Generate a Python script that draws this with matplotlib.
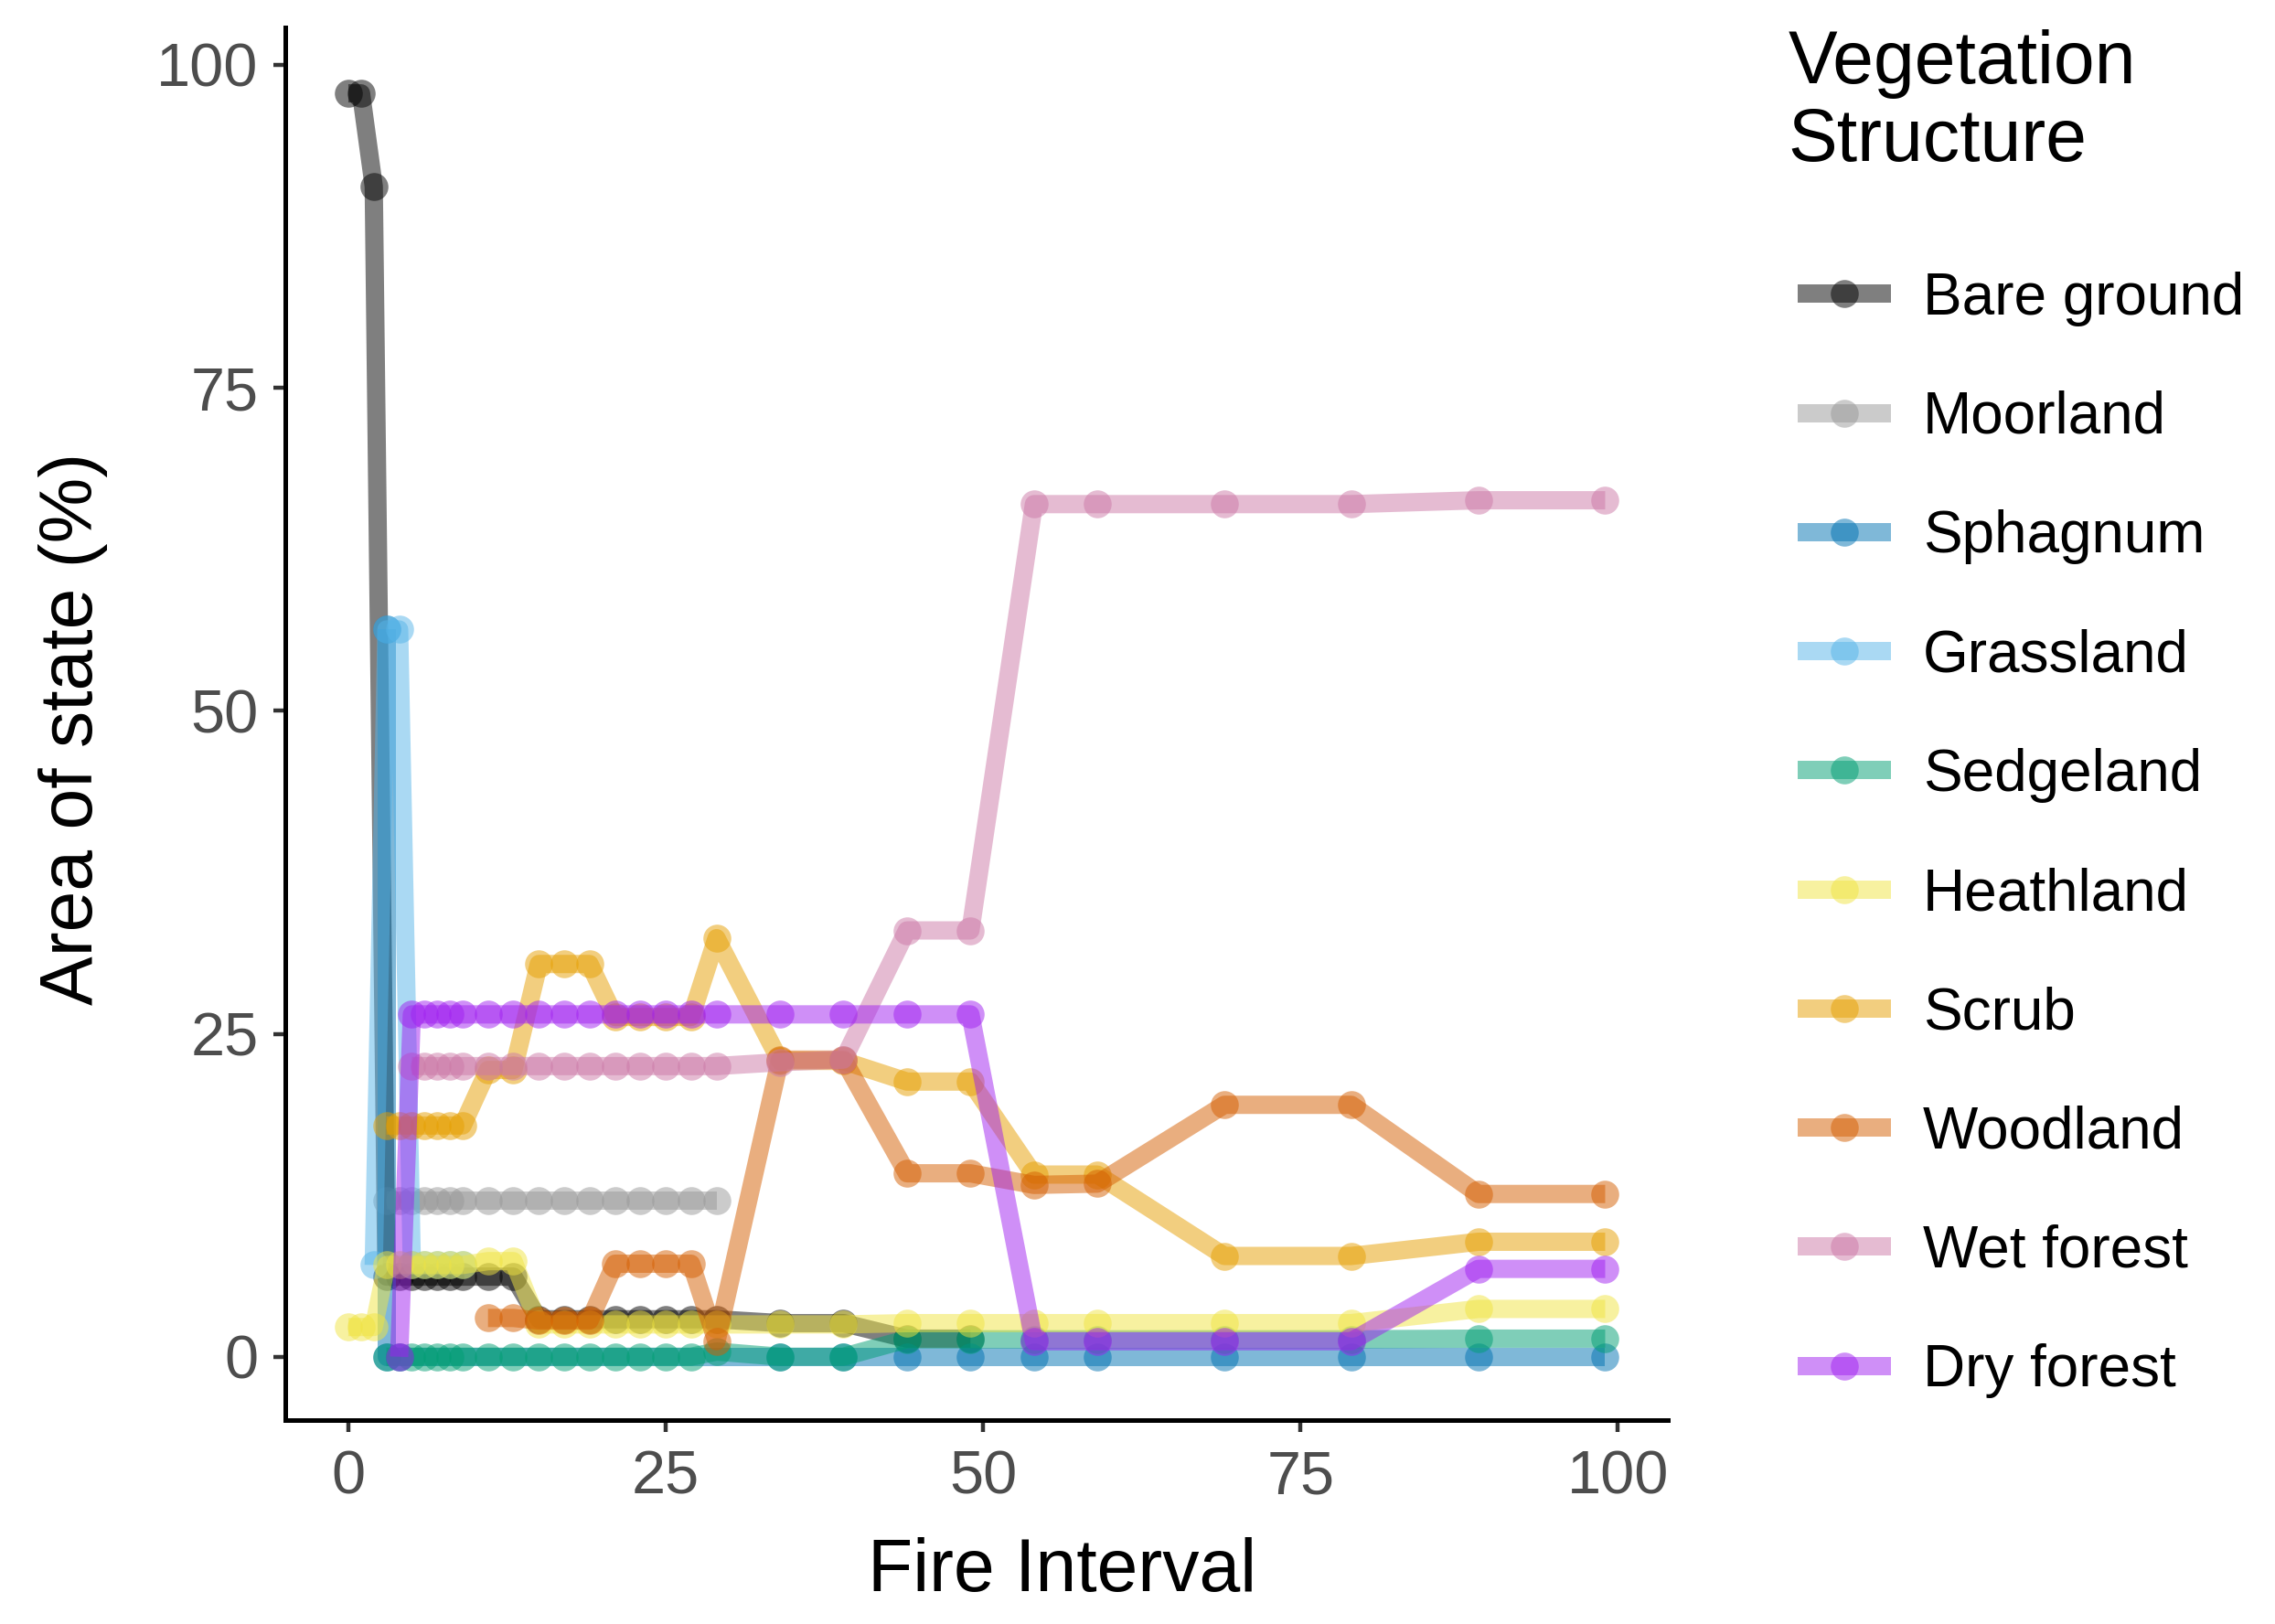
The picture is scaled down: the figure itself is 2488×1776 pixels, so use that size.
import matplotlib.pyplot as plt
from matplotlib.lines import Line2D

plt.rcParams['font.family'] = ['Liberation Sans', 'DejaVu Sans']

# values (fire interval vs % area of each state)
names = ["Bare ground", "Moorland", "Sphagnum", "Grassland", "Sedgeland",
         "Heathland", "Scrub", "Woodland", "Wet forest", "Dry forest"]
colours = ["#000000", "#999999", "#0072B2", "#56B4E9", "#009E73",
           "#F0E442", "#E69F00", "#D55E00", "#CC79A7", "#A020F0"]

mid_x = [11, 13, 15, 17, 19, 21, 23, 25, 27, 29]
late_x = [34, 39, 44, 49, 54, 59, 69, 79, 89, 99]

bare_x = [0, 1, 2, 3, 4, 5, 6, 7, 8, 9] + mid_x + [34, 39, 44, 49]
bare_y = [97.8, 97.8, 90.6, 6.2, 6.2, 6.2, 6.2, 6.2, 6.2, 6.2,
          6.2, 6.2, 2.9, 2.9, 2.9, 2.9, 2.9, 2.9, 2.9, 2.9,
          2.6, 2.6, 1.4, 1.4]

moor_x = [3, 4, 5, 6, 7, 8, 9] + mid_x
moor_y = [12.1] * 17

sphag_x = [3, 3, 4] + late_x
sphag_y = [56.3, 0, 0] + [0] * 10

grass_x = [2, 3, 4, 5, 6, 7, 8, 9]
grass_y = [7.1, 56.3, 56.3, 7.1, 7.1, 7.1, 7.1, 7.1]

sedge_x = [3, 4, 5, 6, 7, 8, 9] + mid_x + late_x
sedge_y = [0] * 7 + [0, 0, 0, 0, 0, 0, 0, 0, 0, 0.4] + \
          [0, 0, 1.35, 1.35, 1.35, 1.35, 1.35, 1.35, 1.4, 1.4]

heath_x = [0, 1, 2, 3, 4, 5, 6, 7, 8, 9] + mid_x + late_x
heath_y = [2.3, 2.3, 2.3, 7.1, 7.1, 7.1, 7.1, 7.1, 7.1, 7.1,
           7.4, 7.4, 2.5, 2.5, 2.5, 2.5, 2.5, 2.5, 2.5, 2.5,
           2.5, 2.5, 2.6, 2.6, 2.6, 2.6, 2.6, 2.6, 3.7, 3.7]

scrub_x = [3, 4, 5, 6, 7, 8, 9] + mid_x + late_x
scrub_y = [17.9] * 7 + [22.2, 22.2, 30.4, 30.4, 30.4, 26.3, 26.3, 26.3, 26.3, 32.4] + \
          [22.9, 22.9, 21.3, 21.3, 14.1, 14.1, 7.8, 7.8, 8.9, 8.9]

wood_x = mid_x + late_x
wood_y = [3.0, 3.0, 2.8, 2.8, 2.8, 7.2, 7.2, 7.2, 7.2, 1.2,
          23.0, 23.0, 14.2, 14.2, 13.3, 13.4, 19.5, 19.5, 12.6, 12.6]

wet_x = [5, 6, 7, 8, 9] + mid_x + late_x
wet_y = [22.5] * 15 + [22.8, 23.0, 33.0, 33.0, 66.0, 66.0, 66.0, 66.0, 66.3, 66.3]

dry_x = [4, 5, 6, 7, 8, 9] + mid_x + late_x
dry_y = [0] + [26.5] * 15 + [26.5, 26.5, 26.5, 26.5, 1.2, 1.2, 1.2, 1.2, 6.8, 6.8]

series_x = [bare_x, moor_x, sphag_x, grass_x, sedge_x, heath_x, scrub_x, wood_x, wet_x, dry_x]
series_y = [bare_y, moor_y, sphag_y, grass_y, sedge_y, heath_y, scrub_y, wood_y, wet_y, dry_y]

LW = 7.2
MS = 11
ALPHA = 0.5

fig = plt.figure(figsize=(12.44, 8.88), dpi=200)
ax = fig.add_axes([0.1255, 0.1256, 0.6077, 0.8575])

for xs, ys, col in zip(series_x, series_y, colours):
    ax.plot(xs, ys, color=col, alpha=ALPHA, linewidth=LW, solid_capstyle="butt",
            marker="o", markersize=MS, markeredgewidth=0)

ax.set_xlim(-4.95, 103.95)
ax.set_ylim(-4.9, 102.9)
ax.set_xticks([0, 25, 50, 75, 100])
ax.set_yticks([0, 25, 50, 75, 100])

for side in ["top", "right"]:
    ax.spines[side].set_visible(False)
for side in ["left", "bottom"]:
    ax.spines[side].set_linewidth(1.8)
    ax.spines[side].set_color("black")

ax.tick_params(axis="both", length=4.7, width=1.6, color="#333333",
               labelsize=24, labelcolor="#4D4D4D")
ax.tick_params(axis="x", pad=7)
ax.tick_params(axis="y", pad=6)

# axis titles placed where the reference has them
fig.text(0.467, 0.032, "Fire Interval", fontsize=29, ha="center", va="center")
fig.text(0.032, 0.551, "Area of state (%)", fontsize=29, ha="center", va="center",
         rotation=90)

# legend: title as separate text, keys as line + one point
fig.text(0.786, 0.982, "Vegetation\nStructure", fontsize=29, va="top", ha="left",
         linespacing=1.15)

handles = [Line2D([0], [0], color=c, alpha=ALPHA, linewidth=LW, marker="o",
                  markersize=MS, markeredgewidth=0, solid_capstyle="butt")
           for c in colours]
fig.legend(handles, names, loc="center left", bbox_to_anchor=(0.79, 0.486),
           frameon=False, fontsize=23, numpoints=1, handlelength=1.6,
           handletextpad=0.55, labelspacing=1.1, borderpad=0, borderaxespad=0)

fig.savefig("out.png", dpi=200)
